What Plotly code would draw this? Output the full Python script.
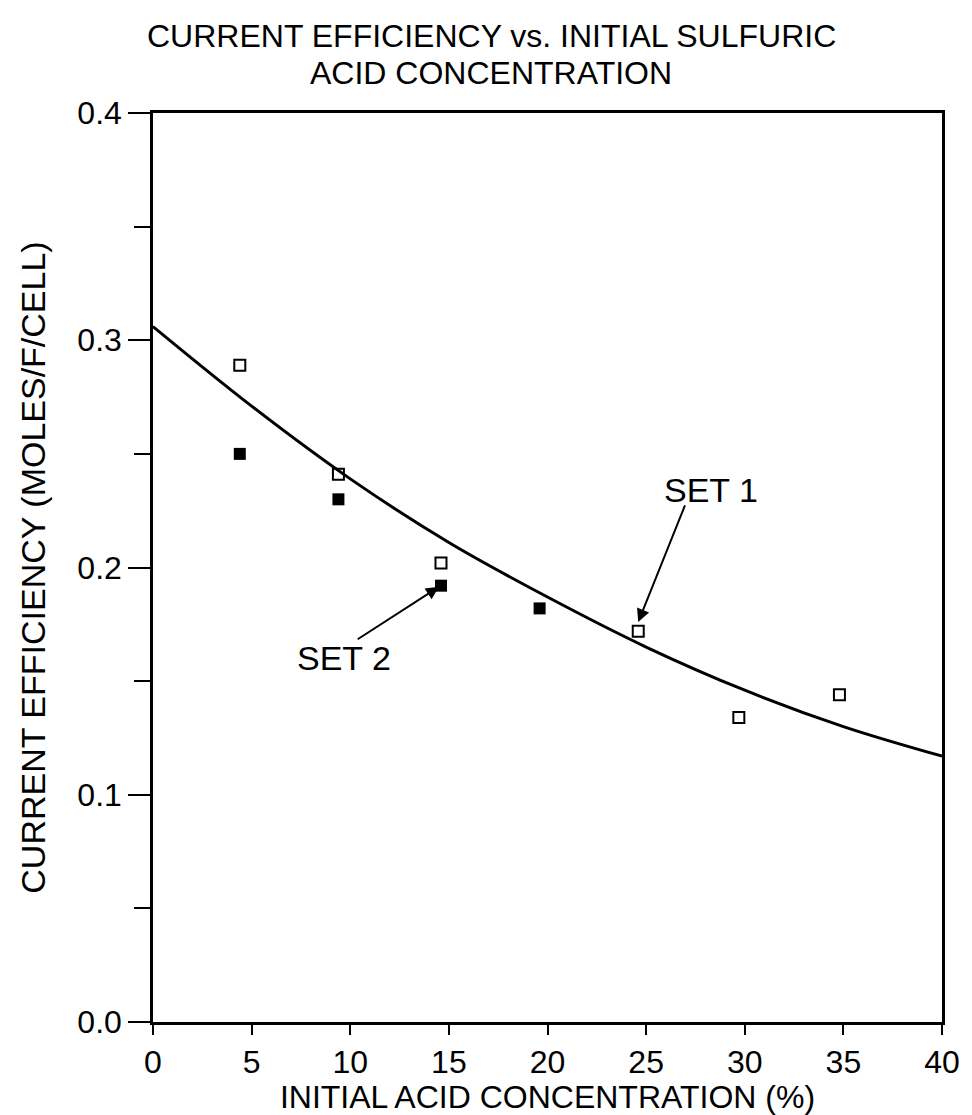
import plotly.graph_objects as go

# Data
set1_x = [4.4, 9.4, 14.6, 24.6, 29.7, 34.8]
set1_y = [0.289, 0.241, 0.202, 0.172, 0.134, 0.144]
set2_x = [4.4, 9.4, 14.6, 19.6]
set2_y = [0.250, 0.230, 0.192, 0.182]
fit_x = [0, 5, 10, 15, 20, 25, 30, 35, 40]
fit_y = [0.306, 0.271, 0.239, 0.211, 0.187, 0.165, 0.146, 0.130, 0.117]
title_lines = ["CURRENT EFFICIENCY vs. INITIAL SULFURIC", "ACID CONCENTRATION"]
x_title = "INITIAL ACID CONCENTRATION (%)"
y_title = "CURRENT EFFICIENCY (MOLES/F/CELL)"

FONT = "Liberation Sans, Arial, sans-serif"

fig = go.Figure()
fig.add_trace(go.Scatter(x=fit_x, y=fit_y, mode="lines", line=dict(color="black", width=3, shape="spline"),
                         showlegend=False, hoverinfo="skip"))
fig.add_trace(go.Scatter(x=set1_x, y=set1_y, mode="markers", name="SET 1",
                         marker=dict(symbol="square-open", size=11, color="black", line=dict(width=2, color="black")),
                         showlegend=False))
fig.add_trace(go.Scatter(x=set2_x, y=set2_y, mode="markers", name="SET 2",
                         marker=dict(symbol="square", size=12, color="black"),
                         showlegend=False))

annots = [
    dict(xref="paper", yref="paper", x=0.4288, y=1.0846, text=title_lines[0], showarrow=False,
         xanchor="center", yanchor="middle", font=dict(size=32, family=FONT, color="black")),
    dict(xref="paper", yref="paper", x=0.4288, y=1.0440, text=title_lines[1], showarrow=False,
         xanchor="center", yanchor="middle", font=dict(size=32, family=FONT, color="black")),
    dict(x=28.3, y=0.234, text="SET 1", showarrow=False, font=dict(size=34, family=FONT, color="black")),
    dict(x=24.6, y=0.176, ax=27.0, ay=0.228, axref="x", ayref="y", xref="x", yref="y", text="",
         showarrow=True, arrowhead=2, arrowsize=1.3, arrowwidth=2, arrowcolor="black"),
    dict(x=9.7, y=0.160, text="SET 2", showarrow=False, font=dict(size=34, family=FONT, color="black")),
    dict(x=14.5, y=0.1915, ax=10.3, ay=0.168, axref="x", ayref="y", xref="x", yref="y", text="",
         showarrow=True, arrowhead=2, arrowsize=1.3, arrowwidth=2, arrowcolor="black"),
]

fig.update_layout(
    width=972, height=1115,
    margin=dict(l=153, r=26, t=113, b=92),
    paper_bgcolor="white", plot_bgcolor="white",
    font=dict(family=FONT, color="black"),
    annotations=annots,
)
fig.update_xaxes(range=[0, 40], dtick=5, tick0=0, showgrid=False, zeroline=False,
                 showline=True, linecolor="black", linewidth=2.5, mirror=True,
                 ticks="outside", ticklen=10, tickwidth=2, tickcolor="black",
                 tickfont=dict(size=32, family=FONT, color="black"),
                 title=dict(text=x_title, font=dict(size=32, family=FONT, color="black"), standoff=0))
fig.update_yaxes(range=[0, 0.4], dtick=0.1, tick0=0, tickformat=".1f", showgrid=False, zeroline=False,
                 showline=True, linecolor="black", linewidth=2.5, mirror=True,
                 ticks="outside", ticklen=22, tickwidth=2, tickcolor="black",
                 minor=dict(dtick=0.05, ticks="outside", ticklen=16, tickwidth=2, tickcolor="black"),
                 tickfont=dict(size=32, family=FONT, color="black"),
                 title=dict(text=y_title, font=dict(size=34, family=FONT, color="black"), standoff=22))

fig.write_html("out.html")
